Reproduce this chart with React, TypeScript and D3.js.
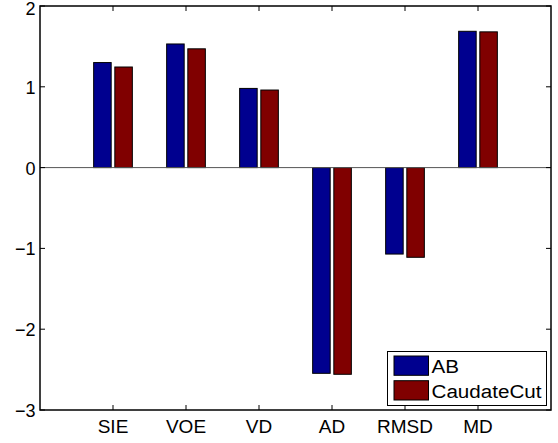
import React from "react";
import * as d3 from "d3";

const categories = ["SIE", "VOE", "VD", "AD", "RMSD", "MD"];
const seriesNames = ["AB", "CaudateCut"];
const abValues = [1.3, 1.53, 0.98, -2.546, -1.07, 1.687];
const caudateValues = [1.245, 1.47, 0.96, -2.558, -1.11, 1.68];
const yTicks = [-3, -2, -1, 0, 1, 2];
const colors = ["#00008F", "#800000"];

export default function App() {
  const W = 558, H = 443;
  const left = 40, right = 551, top = 6, bottom = 410;
  const x = d3.scaleLinear().domain([0, 7]).range([left, right]);
  const y = d3.scaleLinear().domain([-3, 2]).range([bottom, top]);
  const barW = 0.24;
  const offs = [-0.145, 0.145];
  const series = [abValues, caudateValues];
  const font = "'Liberation Sans', Arial, Helvetica, sans-serif";
  const tl = 5;
  const legendWidths = [27.5, 110];
  return (
    <svg width={W} height={H} style={{ position: "absolute", left: 0, top: 0 }}>
      <rect x={0} y={0} width={W} height={H} fill="#fff" />
      {series.map((vals, s) =>
        vals.map((v, i) => {
          const xc = x(i + 1 + offs[s]);
          const w = x(barW) - x(0);
          const x0 = xc - w / 2;
          const y0 = Math.min(y(v), y(0));
          const h = Math.abs(y(v) - y(0));
          return (
            <rect key={`${s}-${i}`} x={x0} y={y0} width={w} height={h}
              fill={colors[s]} stroke="#000" strokeWidth={1} />
          );
        })
      )}
      <line x1={left} x2={right} y1={y(0)} y2={y(0)} stroke="#555" strokeWidth={1} />
      <rect x={left} y={top} width={right - left} height={bottom - top} fill="none" stroke="#000" strokeWidth={1.5} />
      {categories.map((c, i) => (
        <g key={c}>
          <line x1={x(i + 1)} x2={x(i + 1)} y1={bottom} y2={bottom - tl} stroke="#000" />
          <line x1={x(i + 1)} x2={x(i + 1)} y1={top} y2={top + tl} stroke="#000" />
          <text x={x(i + 1)} y={432.5} textAnchor="middle" fontFamily={font} fontSize={19} fill="#000">{c}</text>
        </g>
      ))}
      {yTicks.map((t) => (
        <g key={t}>
          <line x1={left} x2={left + tl} y1={y(t)} y2={y(t)} stroke="#000" />
          <line x1={right} x2={right - tl} y1={y(t)} y2={y(t)} stroke="#000" />
          <text x={35.5} y={Math.max(y(t) + 7, 14.5)} textAnchor="end" fontFamily={font} fontSize={18} fill="#000">
            {t < 0 ? "\u2212" + Math.abs(t) : String(t)}
          </text>
        </g>
      ))}
      <rect x={387.5} y={351.5} width={159} height={54} fill="#fff" stroke="#000" strokeWidth={1} />
      {seriesNames.map((n, s) => (
        <g key={n}>
          <rect x={394} y={356 + s * 24.7} width={34.5} height={19.3} fill={colors[s]} stroke="#000" strokeWidth={1} />
          <text x={431.5} y={373.3 + s * 25} fontFamily={font} fontSize={18} fill="#000"
            textLength={legendWidths[s]} lengthAdjust="spacingAndGlyphs">{n}</text>
        </g>
      ))}
    </svg>
  );
}
